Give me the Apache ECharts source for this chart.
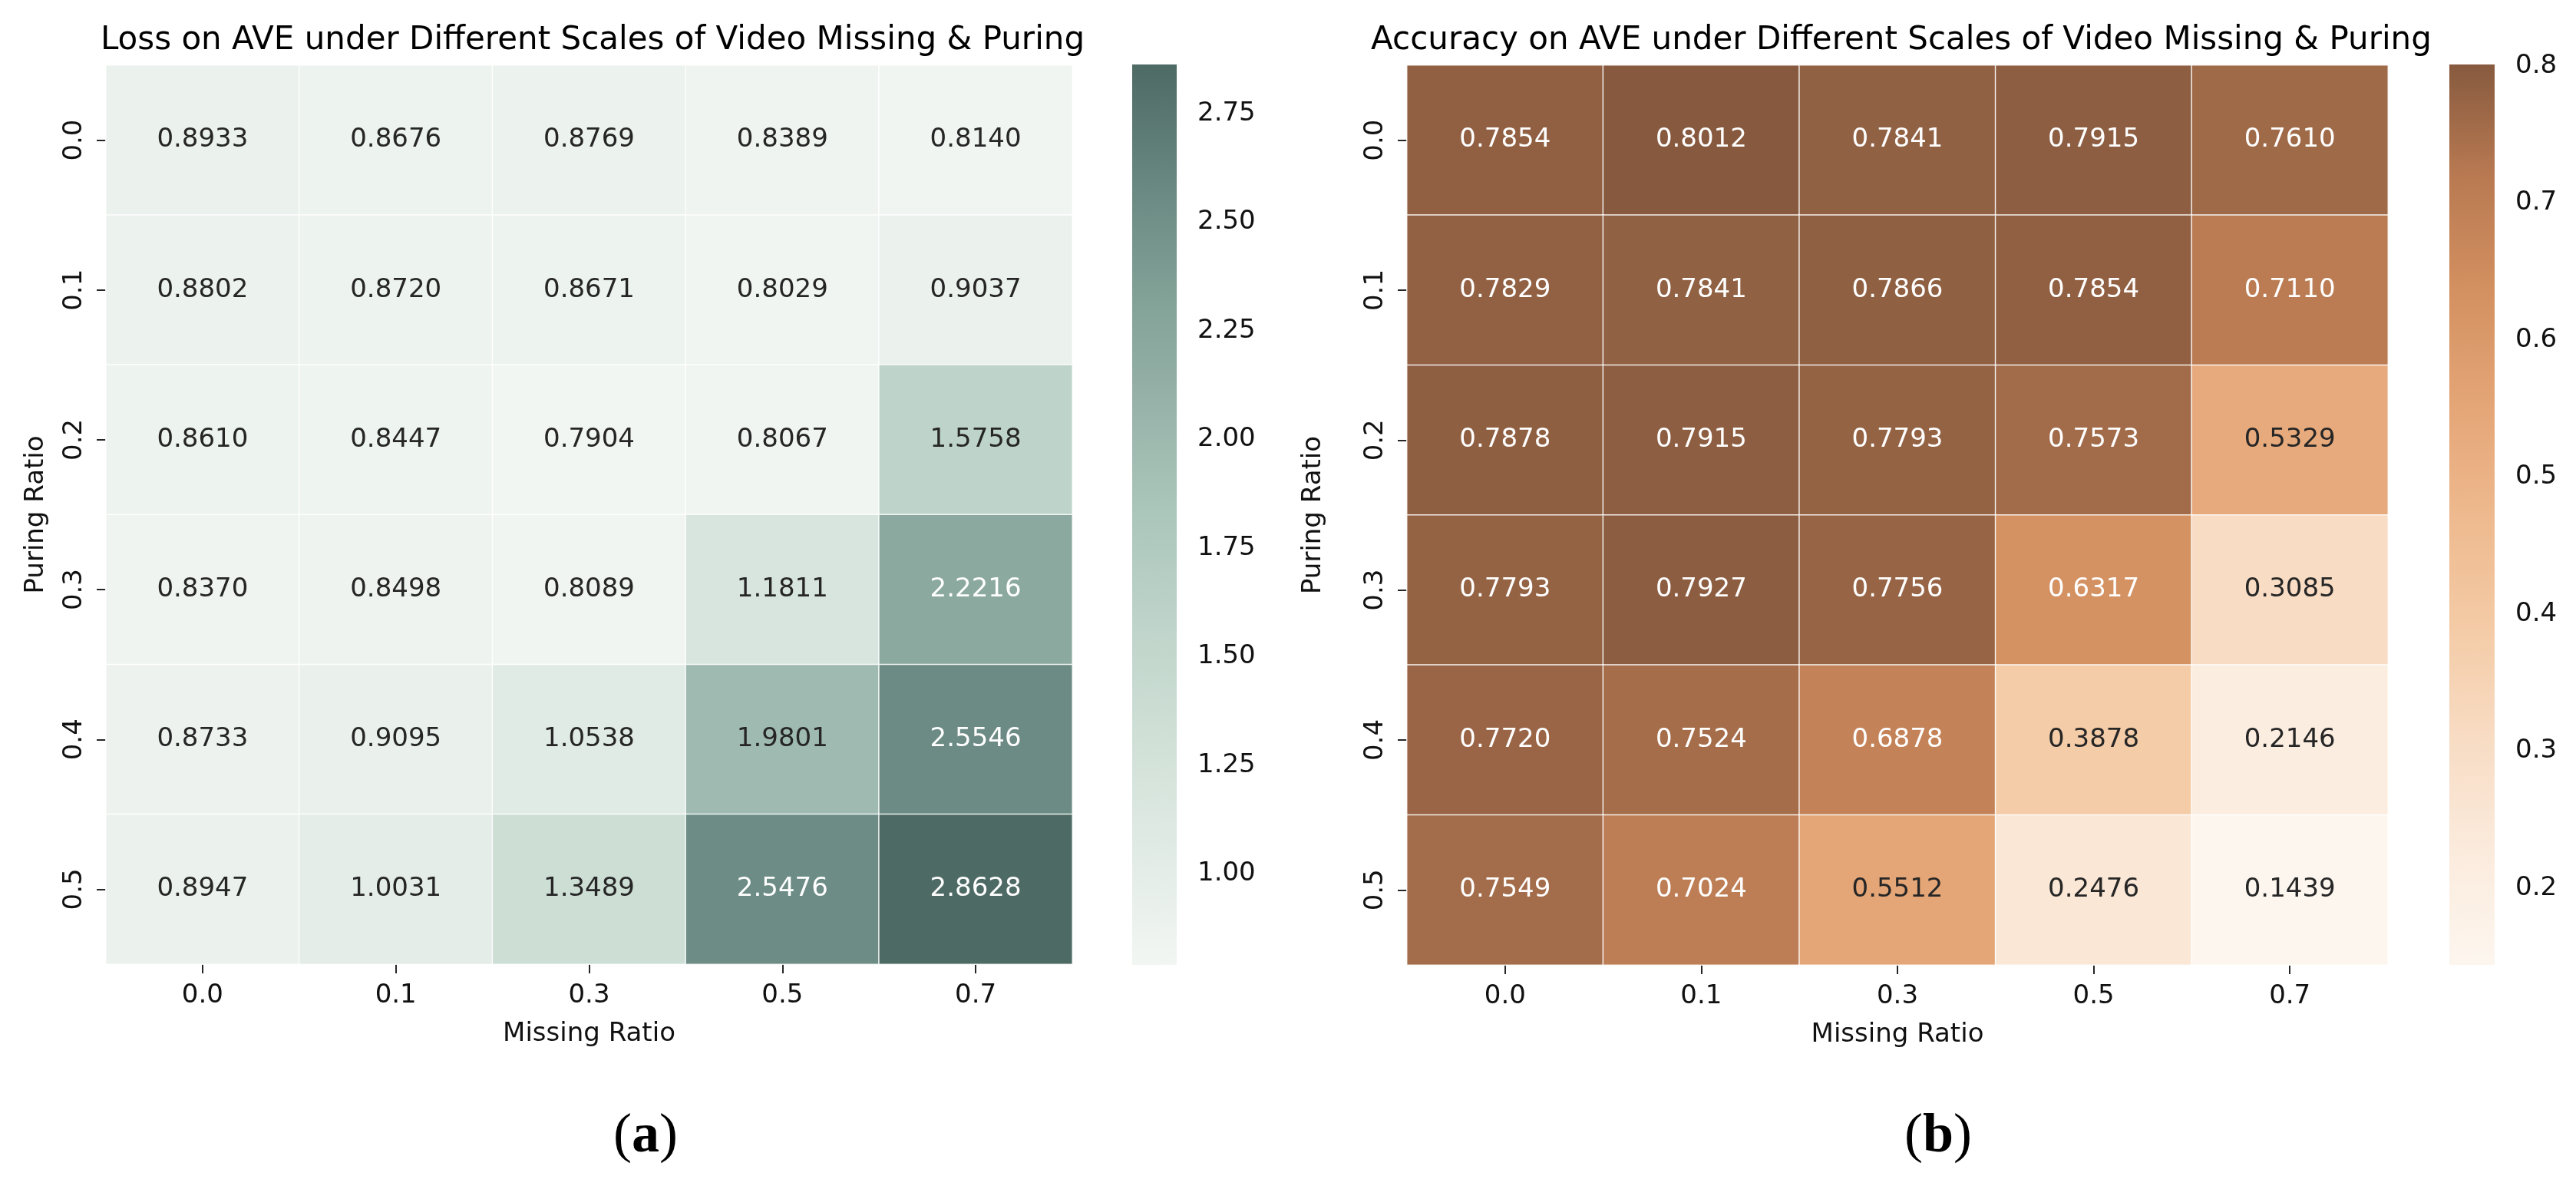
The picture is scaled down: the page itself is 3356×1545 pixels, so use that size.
<!DOCTYPE html>
<html><head><meta charset="utf-8">
<script src="https://cdn.jsdelivr.net/npm/echarts@6/dist/echarts.min.js"></script>
<style>html,body{margin:0;padding:0;background:#fff}#c{width:3356px;height:1545px}</style>
</head><body><div id="c"></div>
<script>
// ---------- data ----------
const missingRatios = ['0.0', '0.1', '0.3', '0.5', '0.7'];
const puringRatios = ['0.0', '0.1', '0.2', '0.3', '0.4', '0.5'];
const lossValues = [
  [0.8933, 0.8676, 0.8769, 0.8389, 0.8140],
  [0.8802, 0.8720, 0.8671, 0.8029, 0.9037],
  [0.8610, 0.8447, 0.7904, 0.8067, 1.5758],
  [0.8370, 0.8498, 0.8089, 1.1811, 2.2216],
  [0.8733, 0.9095, 1.0538, 1.9801, 2.5546],
  [0.8947, 1.0031, 1.3489, 2.5476, 2.8628]
];
const accValues = [
  [0.7854, 0.8012, 0.7841, 0.7915, 0.7610],
  [0.7829, 0.7841, 0.7866, 0.7854, 0.7110],
  [0.7878, 0.7915, 0.7793, 0.7573, 0.5329],
  [0.7793, 0.7927, 0.7756, 0.6317, 0.3085],
  [0.7720, 0.7524, 0.6878, 0.3878, 0.2146],
  [0.7549, 0.7024, 0.5512, 0.2476, 0.1439]
];
const lossTicks = [1.00, 1.25, 1.50, 1.75, 2.00, 2.25, 2.50, 2.75];
const accTicks = [0.2, 0.3, 0.4, 0.5, 0.6, 0.7, 0.8];
const lossColors = ['#f2f6f3', '#e1ebe5', '#d0e0d7', '#bfd4ca', '#abc6bb', '#97b2a8', '#80a096', '#678680', '#4e6a64'];
const accColors = ['#fdf6ef', '#fbebdd', '#f8dcc4', '#f4cba6', '#eeb98e', '#e4a576', '#d39060', '#b97a52', '#875a3f'];
const lossTitle = 'Loss on AVE under Different Scales of Video Missing & Puring';
const accTitle = 'Accuracy on AVE under Different Scales of Video Missing & Puring';

// ---------- helpers ----------
function flat(m) { return m.reduce((a, r) => a.concat(r), []); }
function hexToRgb(h) { return [1, 3, 5].map(i => parseInt(h.substr(i, 2), 16)); }
function interp(colors, t) {
  t = Math.max(0, Math.min(1, t));
  const n = colors.length - 1, p = t * n, i = Math.min(Math.floor(p), n - 1), f = p - i;
  const a = hexToRgb(colors[i]), b = hexToRgb(colors[i + 1]);
  return a.map((c, k) => c + (b[k] - c) * f);
}
function lum(rgb) {
  const l = rgb.map(c => { c /= 255; return c <= 0.03928 ? c / 12.92 : Math.pow((c + 0.055) / 1.055, 2.4); });
  return 0.2126 * l[0] + 0.7152 * l[1] + 0.0722 * l[2];
}
function buildData(m, colors, mn, mx) {
  const out = [];
  m.forEach((row, yi) => row.forEach((v, xi) => {
    const c = interp(colors, (v - mn) / (mx - mn));
    out.push({ value: [xi, yi, v], label: { color: lum(c) > 0.408 ? '#262626' : '#ffffff' } });
  }));
  return out;
}
function gradStops(colors) {
  return colors.map((c, i) => ({ offset: i / (colors.length - 1), color: c }));
}

const lossMin = Math.min(...flat(lossValues)), lossMax = Math.max(...flat(lossValues));
const accMin = Math.min(...flat(accValues)), accMax = Math.max(...flat(accValues));

const FONT = 'DejaVu Sans';
const TXT = '#111111';

function catX(gi) {
  return {
    type: 'category', gridIndex: gi, data: missingRatios,
    axisLine: { show: false },
    axisTick: { show: true, alignWithLabel: true, length: 12, lineStyle: { color: '#262626', width: 2 } },
    axisLabel: { fontFamily: FONT, fontSize: 34, color: TXT, margin: 24 },
    splitLine: { show: false },
    name: 'Missing Ratio', nameLocation: 'middle', nameGap: 74,
    nameTextStyle: { fontFamily: FONT, fontSize: 34, color: TXT }
  };
}
function catY(gi, gap) {
  return {
    type: 'category', gridIndex: gi, data: puringRatios, inverse: true,
    axisLine: { show: false },
    axisTick: { show: true, alignWithLabel: true, length: 12, lineStyle: { color: '#262626', width: 2 } },
    axisLabel: { fontFamily: FONT, fontSize: 34, color: TXT, rotate: 90, margin: 24 },
    splitLine: { show: false },
    name: 'Puring Ratio', nameLocation: 'middle', nameGap: gap, nameRotate: 90,
    nameTextStyle: { fontFamily: FONT, fontSize: 34, color: TXT }
  };
}
function cbX(gi) { return { type: 'value', gridIndex: gi, min: 0, max: 1, show: false }; }
function cbY(gi, mn, mx, ticks, dec) {
  return {
    type: 'value', gridIndex: gi, min: mn, max: mx, position: 'right',
    axisLine: { show: false },
    axisTick: { show: true, length: 12, customValues: ticks, lineStyle: { color: '#262626', width: 2 } },
    axisLabel: { fontFamily: FONT, fontSize: 34, color: TXT, margin: 27, customValues: ticks,
      formatter: v => Number(v).toFixed(dec) },
    splitLine: { show: false }
  };
}
function colorbarSeries(gi, mn, mx, colors) {
  return {
    type: 'custom', xAxisIndex: gi, yAxisIndex: gi, silent: true,
    data: [[0, 1, mn, mx]],
    encode: { x: [0, 1], y: [2, 3] },
    renderItem: (params, api) => {
      const p0 = api.coord([api.value(0), api.value(2)]);
      const p1 = api.coord([api.value(1), api.value(3)]);
      return {
        type: 'rect',
        shape: { x: p0[0], y: p1[1], width: p1[0] - p0[0], height: p0[1] - p1[1] },
        style: { fill: new echarts.graphic.LinearGradient(0, 1, 0, 0, gradStops(colors)) }
      };
    }
  };
}
function heatSeries(gi, m, colors, mn, mx) {
  return {
    type: 'heatmap', xAxisIndex: gi, yAxisIndex: gi,
    data: buildData(m, colors, mn, mx),
    label: { show: true, fontFamily: FONT, fontSize: 34, formatter: p => p.value[2].toFixed(4) },
    itemStyle: { borderColor: 'rgba(255,255,255,0.85)', borderWidth: 1.5 },
    emphasis: { disabled: true }
  };
}
function panelLabel(letter, x) {
  return { text: '{p|(}{l|' + letter + '}{p|)}', left: x, top: 1440, textAlign: 'center',
    textStyle: { fontWeight: 'normal', rich: {
      p: { fontFamily: 'Liberation Serif', fontSize: 72, fontWeight: 'normal', color: '#000' },
      l: { fontFamily: 'Liberation Serif', fontSize: 72, fontWeight: 'bold', color: '#000' } } } };
}

const chart = echarts.init(document.getElementById('c'), null, { renderer: 'canvas' });
chart.setOption({
  backgroundColor: '#ffffff',
  animation: false,
  title: [
    { text: lossTitle, left: 767, top: 27, textAlign: 'center',
      textStyle: { fontFamily: FONT, fontSize: 42, fontWeight: 'normal', color: '#000' } },
    { text: accTitle, left: 2472, top: 27, textAlign: 'center',
      textStyle: { fontFamily: FONT, fontSize: 42, fontWeight: 'normal', color: '#000' } },
    panelLabel('a', 836),
    panelLabel('b', 2520)
  ],
  grid: [
    { left: 138, top: 85, width: 1259, height: 1171 },
    { left: 1833, top: 85, width: 1278, height: 1172 },
    { left: 1475, top: 84, width: 58, height: 1173 },
    { left: 3191, top: 84, width: 59, height: 1173 }
  ],
  xAxis: [catX(0), catX(1), cbX(2), cbX(3)],
  yAxis: [catY(0, 74), catY(1, 105), cbY(2, lossMin, lossMax, lossTicks, 2), cbY(3, accMin, accMax, accTicks, 1)],
  visualMap: [
    { type: 'continuous', show: false, seriesIndex: 0, dimension: 2, min: lossMin, max: lossMax,
      inRange: { color: lossColors } },
    { type: 'continuous', show: false, seriesIndex: 1, dimension: 2, min: accMin, max: accMax,
      inRange: { color: accColors } }
  ],
  series: [
    heatSeries(0, lossValues, lossColors, lossMin, lossMax),
    heatSeries(1, accValues, accColors, accMin, accMax),
    colorbarSeries(2, lossMin, lossMax, lossColors),
    colorbarSeries(3, accMin, accMax, accColors)
  ]
});
</script>
</body></html>
